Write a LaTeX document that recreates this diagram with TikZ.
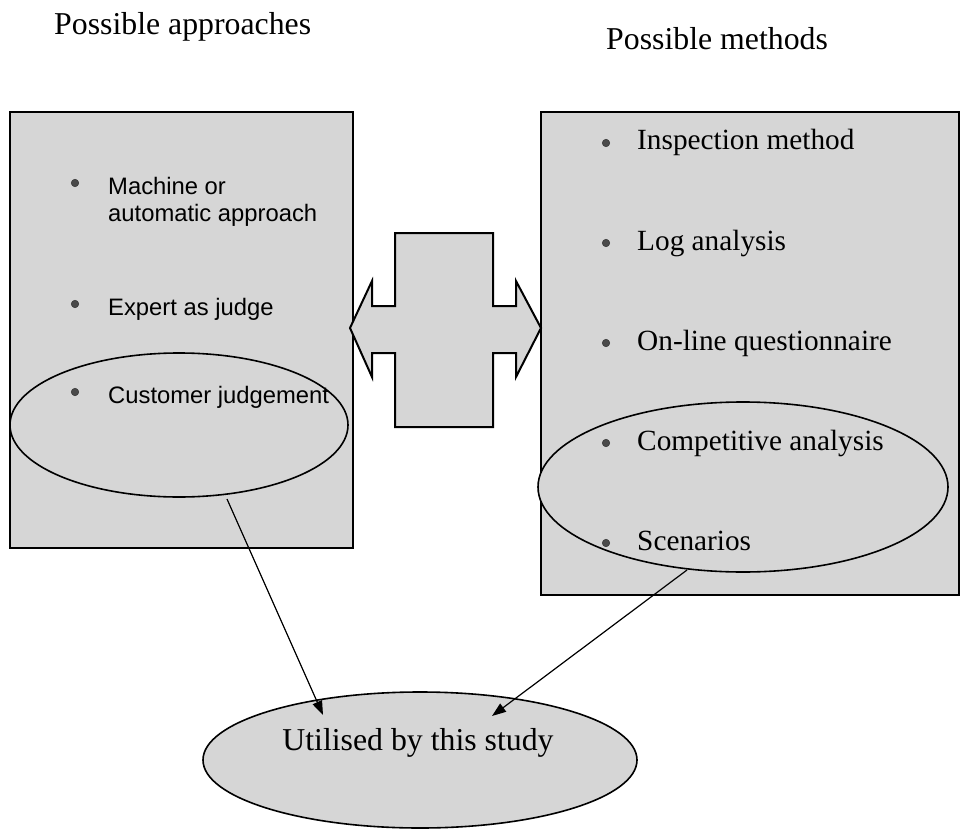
\documentclass[tikz,border=0pt]{standalone}
\usepackage{fontspec}
\setmainfont{Liberation Serif}
\newfontfamily\arialfont{Liberation Sans}
\usetikzlibrary{shapes.geometric,arrows.meta}
\definecolor{stipple}{HTML}{D6D6D6}
\definecolor{dotgray}{HTML}{4A4A4A}
\tikzset{
  panel/.style={draw=black, line width=2pt, fill=stipple},
  oval/.style={ellipse, draw=black, line width=1.6pt, fill=stipple, inner sep=0pt},
  heading/.style={anchor=base west, inner sep=0pt, font=\fontsize{31.8}{38}\selectfont},
  serifitem/.style={anchor=base west, inner sep=0pt, font=\fontsize{29.3}{35}\selectfont},
  sansitem/.style={anchor=base west, inner sep=0pt, align=left, font=\arialfont\fontsize{23.8}{27}\selectfont},
  bulletdot/.style={circle, fill=dotgray, draw=black!80, line width=0.5pt, minimum size=7.5pt, inner sep=0pt},
  feed/.style={line width=1.2pt, -{Triangle[length=14pt,width=10pt]}},
}
\begin{document}
\begin{tikzpicture}[x=1pt, y=-1pt]
\useasboundingbox (0,0) rectangle (963,829);

% headings
\node[heading] (hApp) at (54,35) {Possible approaches};
\node[heading] (hMeth) at (606,50) {Possible methods};

% left panel: approaches
\draw[panel] (10,112) rectangle (353,548);
\node[oval, minimum width=338pt, minimum height=144pt] (lsel) at (179,425) {};
\node[bulletdot] (lb1) at (75,183) {};
\node[sansitem] (la1) at (108,222) {Machine or\\automatic approach};
\node[bulletdot] (lb2) at (75,304) {};
\node[sansitem] (la2) at (108,315) {Expert as judge};
\node[bulletdot] (lb3) at (75,392) {};
\node[sansitem] (la3) at (108,403) {Customer judgement};

% right panel: methods
\draw[panel] (541,112) rectangle (959,595);
\node[oval, minimum width=410pt, minimum height=170pt] (rsel) at (743,487) {};
\node[bulletdot] (rb1) at (606,143) {};
\node[serifitem] (rm1) at (637,150) {Inspection method};
\node[bulletdot] (rb2) at (606,243) {};
\node[serifitem] (rm2) at (637,250) {Log analysis};
\node[bulletdot] (rb3) at (606,343) {};
\node[serifitem] (rm3) at (637,350) {On-line questionnaire};
\node[bulletdot] (rb4) at (606,443) {};
\node[serifitem] (rm4) at (637,450) {Competitive analysis};
\node[bulletdot] (rb5) at (606,543) {};
\node[serifitem] (rm5) at (637,550) {Scenarios};

% two-way block arrow between the panels
\draw[line width=2pt, fill=stipple, line join=miter]
  (350,328) -- (372,281) -- (372,306) -- (395,306) -- (395,233) -- (493,233)
  -- (493,306) -- (516,306) -- (516,281) -- (541,328) -- (516,377) -- (516,353)
  -- (493,353) -- (493,427) -- (395,427) -- (395,353) -- (372,353) -- (372,377)
  -- cycle;

% outcome
\node[oval, minimum width=434pt, minimum height=136pt] (study) at (420,760) {};
\node[anchor=base, inner sep=0pt, font=\fontsize{31.8}{38}\selectfont] (studyText) at (418,750) {Utilised by this study};

% connectors
\coordinate (lOut) at (227,499);
\coordinate (rOut) at (687,570);
\coordinate (lIn) at (323,715);
\coordinate (rIn) at (492,716);
\draw[feed] (lOut) -- (lIn);
\draw[feed] (rOut) -- (rIn);
\end{tikzpicture}
\end{document}
